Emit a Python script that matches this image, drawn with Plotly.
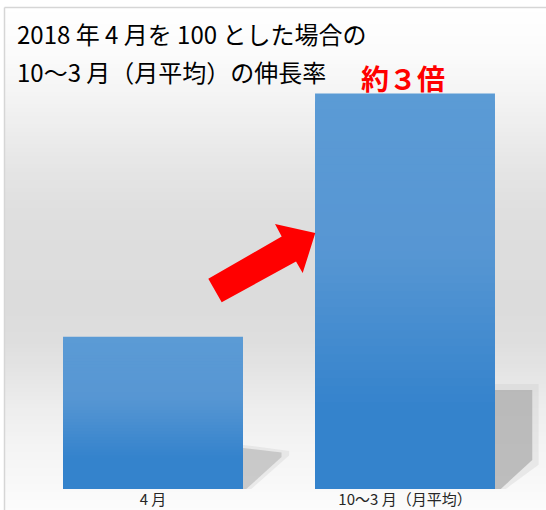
import plotly.graph_objects as go

# ---- data ----
categories = ["4 月", "10～3 月（月平均）"]
values = [100, 260]
title_lines = ["2018 年 4 月を 100 とした場合の", "10～3 月（月平均）の伸長率"]
callout = "約３倍"

W, H = 546, 510
L, R, T, B = 27, 0, 60, 21
XR = [-0.5, 1.5595]
YR = [0, 282]
pw, ph = W - L - R, H - T - B

def px2paper(px, py):
    return (px - L) / pw, (H - B - py) / ph

fig = go.Figure()

# gradient bars via overlaid bars (top light -> bottom dark)
def lerp(c1, c2, t):
    return tuple(round(a + (b - a) * t) for a, b in zip(c1, c2))

LIGHT_TOP = (0x5B, 0x9B, 0xD5)
LIGHT_MID = (0x57, 0x96, 0xD3)
DARK = (0x34, 0x83, 0xCC)

def grad(f):
    if f >= 0.6:
        return lerp(LIGHT_MID, LIGHT_TOP, (f - 0.6) / 0.4)
    if f >= 0.2:
        return lerp(DARK, LIGHT_MID, (f - 0.2) / 0.4)
    return DARK

N = 50
for k in range(N):
    frac = 1 - k / N
    c = grad(1 - (k + 0.5) / N)
    fig.add_trace(go.Bar(
        x=categories, y=[v * frac for v in values],
        marker=dict(color="rgb(%d,%d,%d)" % c, line=dict(width=0)),
        showlegend=False, hoverinfo="skip" if k else None,
    ))

# background gradient strips (paper coords)
stops = [(8, 255), (40, 252), (60, 250), (100, 243), (140, 235), (170, 229),
         (210, 223), (250, 221), (310, 220), (340, 222), (370, 228), (400, 236),
         (440, 243), (480, 248), (510, 252)]

def gray_at(py):
    for (y0, g0), (y1, g1) in zip(stops, stops[1:]):
        if y0 <= py <= y1:
            return g0 + (g1 - g0) * (py - y0) / (y1 - y0)
    return stops[-1][1]

shapes = []
step = 4
y = 8
while y < 510:
    g = round(gray_at(y + step / 2))
    x0, y0 = px2paper(5, y)
    x1, y1 = px2paper(546, min(y + step, 510) + 0.5)
    shapes.append(dict(type="rect", xref="paper", yref="paper", x0=x0, x1=x1,
                       y0=y0, y1=y1, fillcolor="rgb(%d,%d,%d)" % (g, g, g),
                       line=dict(width=0), layer="below"))
    y += step

# border lines
bx0, by0 = px2paper(4.5, 7.5)
bx1, by1 = px2paper(546, 510)
shapes.append(dict(type="line", xref="paper", yref="paper", x0=bx0, x1=bx1, y0=by0, y1=by0,
                   line=dict(color="#d6d6d6", width=1.5), layer="below"))
shapes.append(dict(type="line", xref="paper", yref="paper", x0=bx0, x1=bx0, y0=by0, y1=by1,
                   line=dict(color="#d6d6d6", width=1.5), layer="below"))

# shadows (data coords, behind bars)
hw = 0.357
def shadow(i, top, top_r, rx, diag_y, endx, col):
    p = (f"M {i+hw} {top} L {i+rx} {top_r} L {i+rx} {diag_y} "
         f"L {i+endx} 0 L {i+hw} 0 Z")
    return dict(type="path", xref="x", yref="y", path=p, fillcolor=col,
                line=dict(width=0), layer="below")

# soft halos
shapes.append(shadow(0, 29, 25, 0.54, 22, 0.39, "rgba(190,190,190,0.25)"))
shapes.append(shadow(1, 69, 69, 0.53, 16, 0.40, "rgba(200,200,200,0.3)"))
# cores
shapes.append(shadow(0, 27, 24, 0.51, 21, 0.37, "rgba(170,170,170,0.5)"))
shapes.append(shadow(1, 65, 65, 0.505, 19, 0.38, "rgba(170,170,170,0.7)"))

# red arrow (pixel -> data)
def pd(px, py):
    return ((px - 153) / 252, (489 - py) / 1.52)

arrow_px = [(208.3, 279), (281.7, 236.7), (275, 224.3), (315.3, 233.3),
            (302.7, 273.3), (296, 261.7), (221.7, 302.3)]
pts = [pd(*p) for p in arrow_px]
path = "M " + " L ".join(f"{x:.4f} {y:.3f}" for x, y in pts) + " Z"
shapes.append(dict(type="path", xref="x", yref="y", path=path, fillcolor="#FF0000",
                   line=dict(width=0), layer="above"))

annotations = []
for text, cy in zip(title_lines, [33.8, 71.4]):
    ax, ay = px2paper(15, cy)
    annotations.append(dict(text=text, xref="paper", yref="paper", x=ax, y=ay,
                            xanchor="left", yanchor="middle", showarrow=False,
                            font=dict(family="Noto Sans CJK JP", size=24, color="#000000")))
cx, cy = px2paper(403, 78)
annotations.append(dict(text="<b>" + callout + "</b>", xref="paper", yref="paper", x=cx, y=cy,
                        xanchor="center", yanchor="middle", showarrow=False,
                        font=dict(family="Noto Sans CJK JP", size=28, color="#FF0000")))

fig.update_layout(
    width=W, height=H, margin=dict(l=L, r=R, t=T, b=B),
    barmode="overlay", bargap=0.286,
    paper_bgcolor="white", plot_bgcolor="rgba(0,0,0,0)",
    shapes=shapes, annotations=annotations, showlegend=False,
    xaxis=dict(range=XR, showgrid=False, zeroline=False, showline=False, ticks="",
               tickfont=dict(family="Noto Sans CJK JP", size=15, color="#262626")),
    yaxis=dict(range=YR, visible=False, showgrid=False, zeroline=False),
)

fig.write_html("out.html", config={"displayModeBar": False},
               post_script="document.body.style.margin='0';document.body.style.overflow='hidden';")
